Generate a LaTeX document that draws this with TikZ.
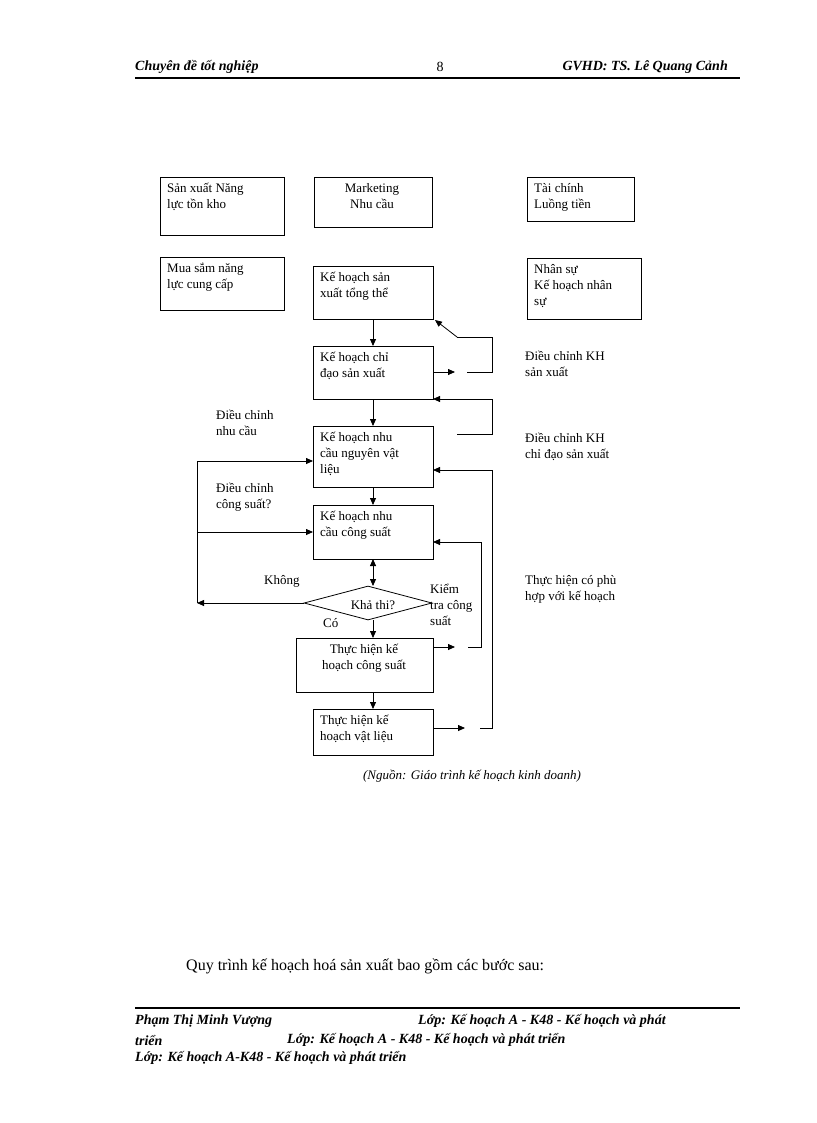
\documentclass[tikz,border=0pt]{standalone}
\usepackage{fontspec}
\setmainfont{Liberation Serif}
\usetikzlibrary{shapes.geometric,arrows.meta}
\begin{document}
\begin{tikzpicture}[x=1pt,y=-1pt,
 box/.style={draw,line width=0.8pt,anchor=north west,align=left,inner sep=0pt,font=\fontsize{13}{16}\selectfont},
 lbl/.style={anchor=north west,align=left,inner sep=0pt,font=\fontsize{13}{16}\selectfont},
 arr/.style={-{Triangle[length=7pt,width=6pt]},line width=0.8pt},
 ln/.style={line width=0.8pt},
 hdr/.style={font=\fontsize{14}{17}\selectfont\bfseries\itshape,inner sep=0pt}]
\useasboundingbox (0,0) rectangle (816,1123);
% header
\node[hdr,anchor=west] (h1) at (135,67) {Chuyên đề tốt nghiệp};
\node[font=\fontsize{14}{17}\selectfont,inner sep=0pt] (h2) at (440,67) {8};
\node[hdr,anchor=east] (h3) at (728,67) {GVHD: TS. Lê Quang Cảnh};
\draw[line width=1.2pt] (135,78) -- (740,78);
% boxes
\newcommand{\bx}[6]{\node[box,minimum width=#4-#2,minimum height=#5-#3,text width=#4-#2-14] (#1) at (#2,#3) {};
 \node[lbl] at (#2+7,#3+6) {#6};}
\bx{sx}{160}{177}{284}{235}{Sản xuất Năng\\lực tồn kho}
\node[box,minimum width=118,minimum height=50] (mk) at (314,177) {};
\node[lbl,align=center,anchor=north] at (372,183) {Marketing\\Nhu cầu};
\bx{tc}{527}{177}{634}{221}{Tài chính\\Luồng tiền}
\bx{ms}{160}{257}{284}{310}{Mua sắm năng\\lực cung cấp}
\bx{tt}{313}{266}{433}{319}{Kế hoạch sản\\xuất tổng thể}
\bx{ns}{527}{258}{641}{319}{Nhân sự\\Kế hoạch nhân\\sự}
\bx{cd}{313}{346}{433}{399}{Kế hoạch chỉ\\đạo sản xuất}
\bx{nvl}{313}{426}{433}{487}{Kế hoạch nhu\\cầu nguyên vật\\liệu}
\bx{cs}{313}{505}{433}{559}{Kế hoạch nhu\\cầu công suất}
\node[draw,line width=0.8pt,diamond,aspect=3.76,minimum width=128,minimum height=34,inner sep=0pt] (kt) at (368,603) {};
\node[lbl,anchor=center] at (373,605) {Khả thi?};
\node[box,minimum width=137,minimum height=54] (thcs) at (296,638) {};
\node[lbl,align=center,anchor=north] at (364,644) {Thực hiện kế\\hoạch công suất};
\bx{thvl}{313}{709}{433}{755}{Thực hiện kế\\hoạch vật liệu}
% labels
\node[lbl] (l1) at (525,351) {Điều chỉnh KH\\sản xuất};
\node[lbl] (l2) at (525,433) {Điều chỉnh KH\\chỉ đạo sản xuất};
\node[lbl] (l3) at (525,575) {Thực hiện có phù\\hợp với kế hoạch};
\node[lbl] (l4) at (216,410) {Điều chỉnh\\nhu cầu};
\node[lbl] (l5) at (216,483) {Điều chỉnh\\công suất?};
\node[lbl] (l6) at (264,575) {Không};
\node[lbl] (l7) at (430,584) {Kiểm\\tra công\\suất};
\node[lbl] (l8) at (323,618) {Có};
% vertical flow
\draw[arr] (tt.south -| 373,0) -- (373,346);
\draw[arr] (373,399) -- (373,426);
\draw[arr] (373,487) -- (373,505);
\draw[arr] (373,572) -- (373,559);
\draw[arr] (373,572) -- (373,586);
\draw[arr] (373,620) -- (373,638);
\draw[arr] (373,692) -- (373,709);
% right loops
\coordinate (a1) at (455,372); \coordinate (a2) at (467,372);
\draw[arr] (433,372) -- (a1);
\draw[ln] (a2) -- (492,372) -- (492,337) -- (457,337);
\draw[arr] (457,337) -- (435,320);
\coordinate (b1) at (457,434);
\draw[ln] (b1) -- (492,434) -- (492,399);
\draw[arr] (492,399) -- (433,399);
\coordinate (c1) at (455,647); \coordinate (c2) at (468,647);
\draw[arr] (433,647) -- (c1);
\draw[arr] (c2) -- (481,647) -- (481,542) -- (433,542);
\coordinate (d1) at (465,728); \coordinate (d2) at (480,728);
\draw[arr] (433,728) -- (d1);
\draw[arr] (d2) -- (492,728) -- (492,470) -- (433,470);
% left loop
\draw[arr] (kt.west) -- (197,603);
\draw[ln] (197,603) -- (197,461);
\draw[arr] (197,461) -- (313,461);
\draw[arr] (197,532) -- (313,532);
% caption and text
\node[font=\fontsize{13}{16}\selectfont\itshape,inner sep=0pt] (cap) at (472,776) {(Nguồn: Giáo trình kế hoạch kinh doanh)};
\node[font=\fontsize{16}{19}\selectfont,inner sep=0pt,anchor=west] (q) at (186,966) {Quy trình kế hoạch hoá sản xuất bao gồm các bước sau:};
\draw[line width=1.2pt] (135,1008) -- (740,1008);
\node[hdr,anchor=west] (f1) at (135,1021) {Phạm Thị Minh Vượng};
\node[hdr,anchor=west] (f2) at (418,1021) {Lớp: Kế hoạch A - K48 - Kế hoạch và phát};
\node[hdr,anchor=west] (f3) at (135,1040) {triển};
\node[hdr,anchor=west] (f4) at (287,1040) {Lớp: Kế hoạch A - K48 - Kế hoạch và phát triển};
\node[hdr,anchor=west] (f5) at (135,1058) {Lớp: Kế hoạch A-K48 - Kế hoạch và phát triển};
\end{tikzpicture}
\end{document}
